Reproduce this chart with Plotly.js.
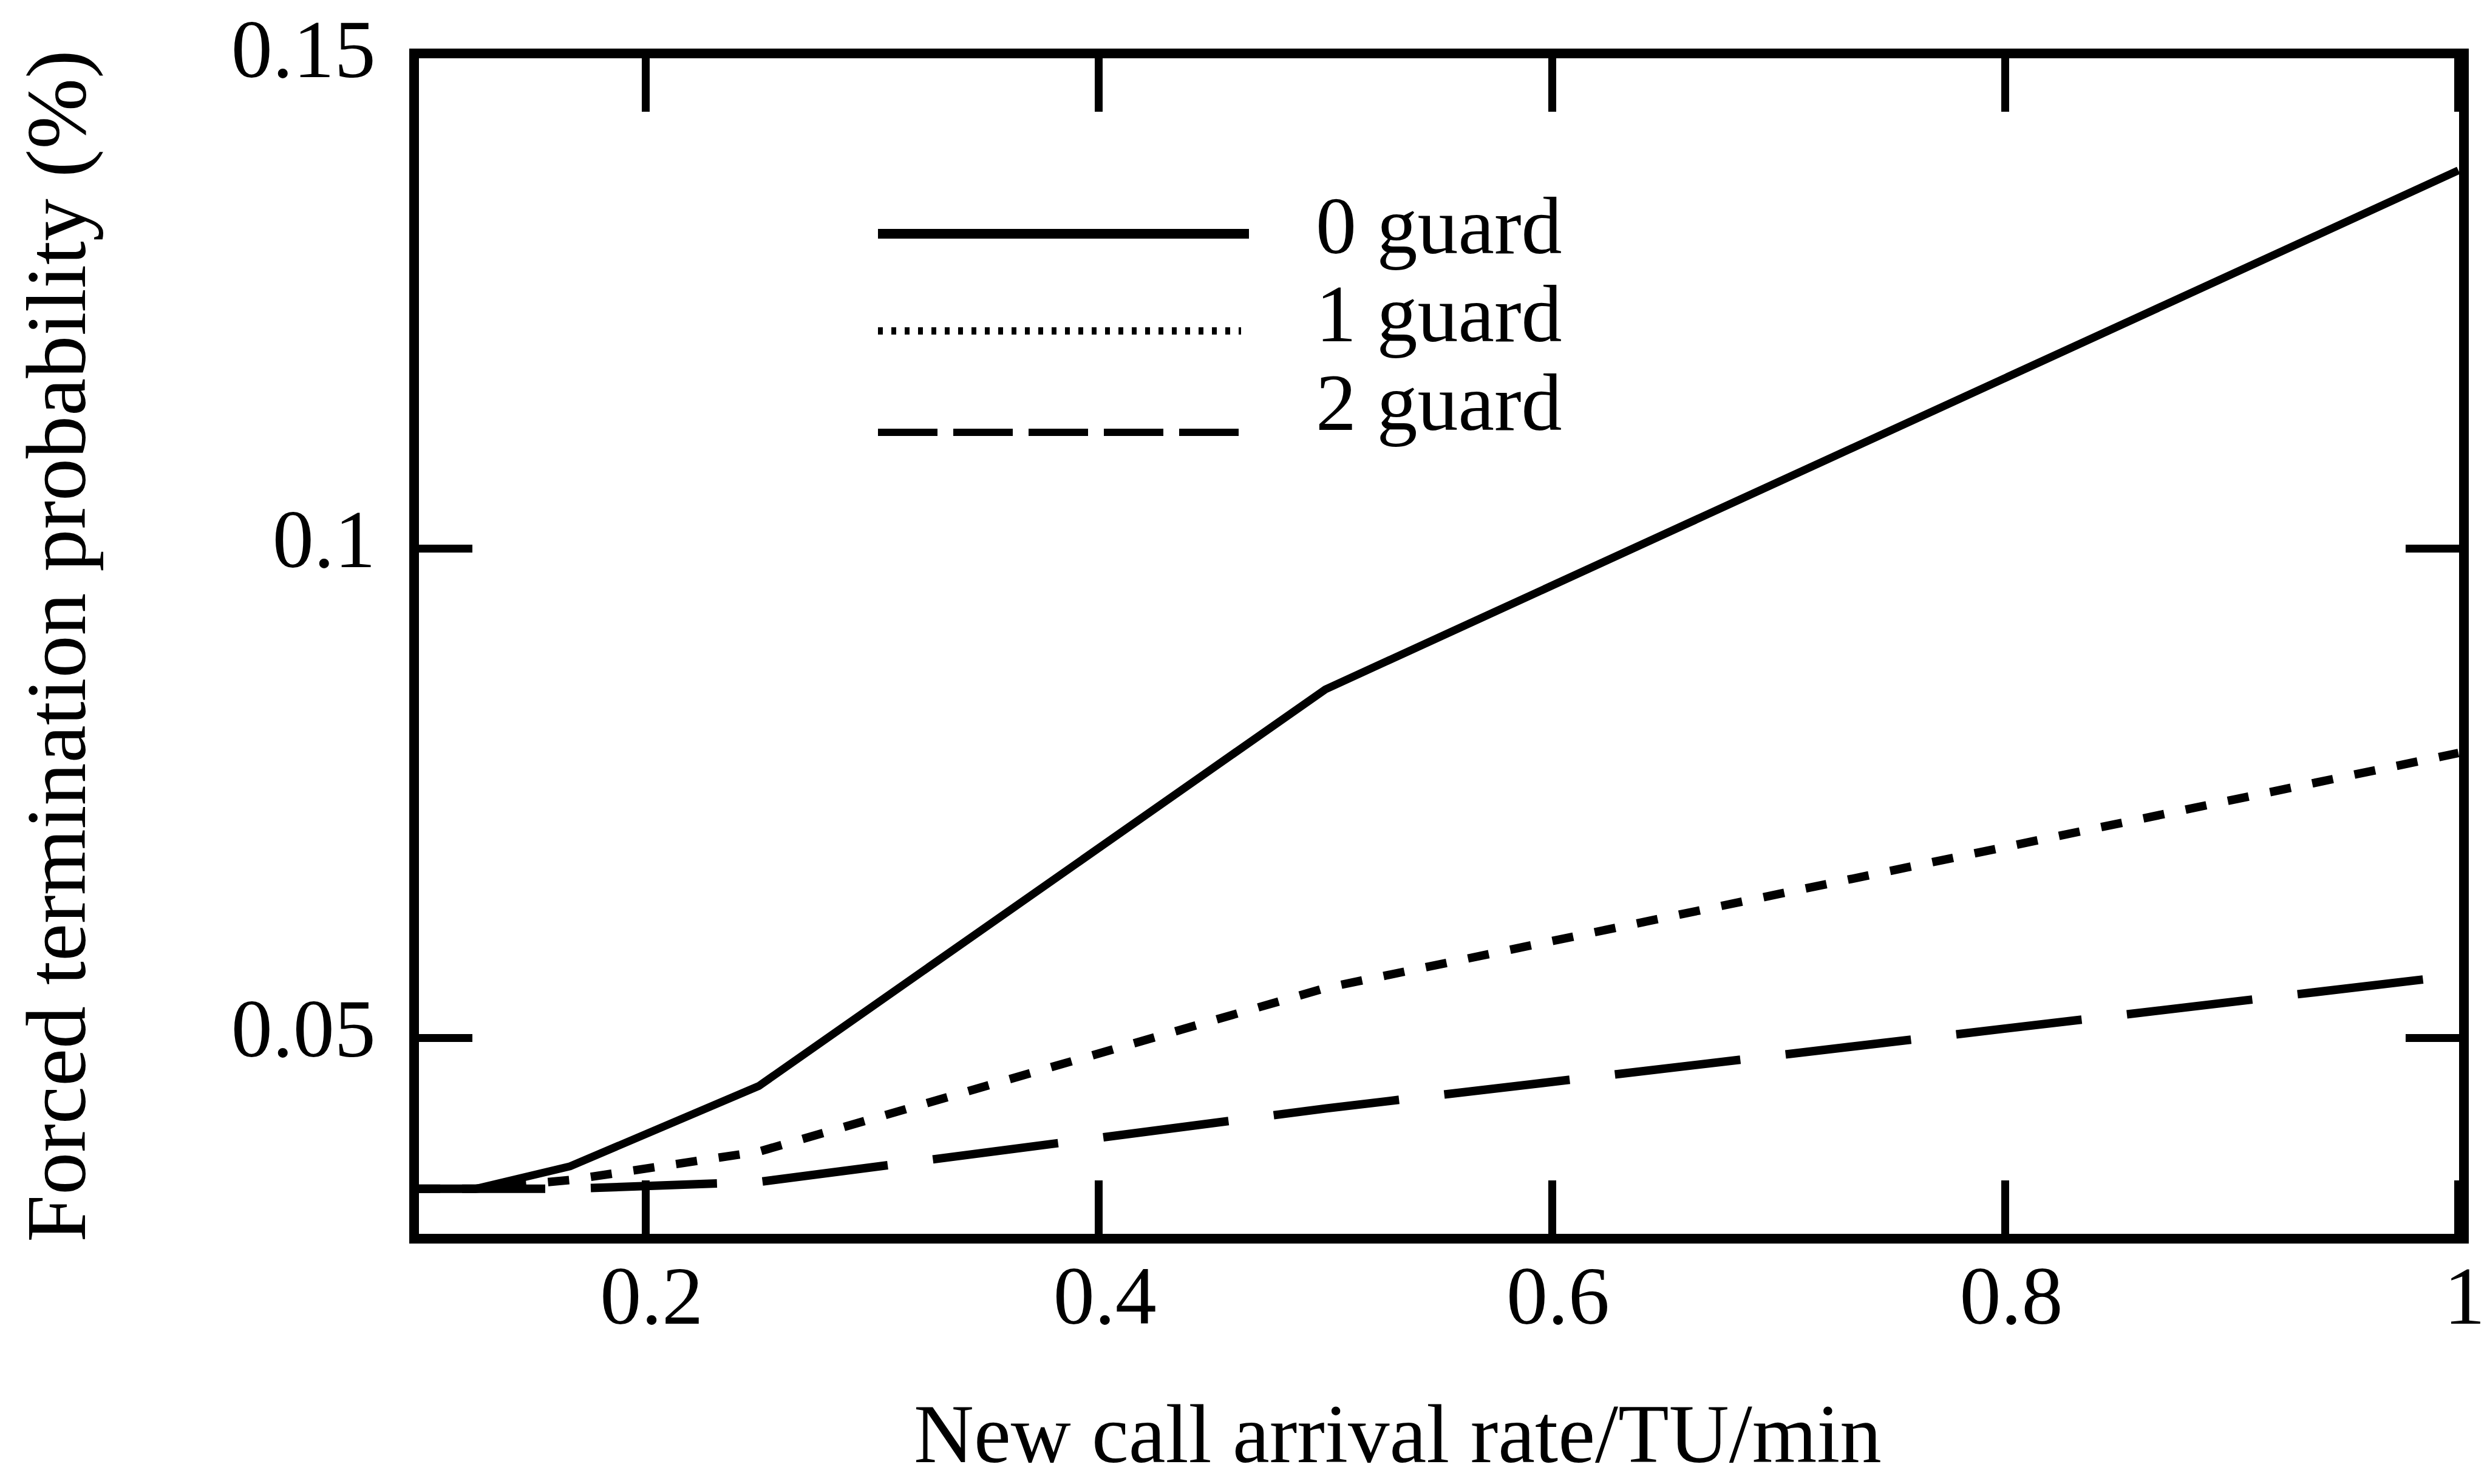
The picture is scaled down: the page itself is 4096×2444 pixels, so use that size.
<!DOCTYPE html>
<html>
<head>
<meta charset="utf-8">
<script src="https://cdn.plot.ly/plotly-3.0.1.min.js"></script>
<style>
  html, body { margin: 0; padding: 0; background: #ffffff; }
  #chart { width: 4096px; height: 2444px; }
</style>
</head>
<body>
<div id="chart"></div>
<script>
// ---- data ----
const arrivalRate = [0.1, 0.125, 0.1667, 0.25, 0.5, 1.0];
const guard0 = [0.0346, 0.0346, 0.0369, 0.0451, 0.0856, 0.1386];
const guard1 = [0.0346, 0.0346, 0.0355, 0.0384, 0.0551, 0.0791];
const guard2 = [0.0346, 0.0346, 0.0346, 0.0353, 0.0428, 0.0564];
const seriesNames = ["0 guard", "1 guard", "2 guard"];
const xTickVals = [0.2, 0.4, 0.6, 0.8, 1];
const xTickText = ["0.2", "0.4", "0.6", "0.8", "1"];
const yTickVals = [0.05, 0.1, 0.15];
const yTickText = ["0.05", "0.1", "0.15"];
const xTitle = "New call arrival rate/TU/min";
const yTitle = "Forced termination probability (%)";

// ---- layout geometry (pixels) ----
const W = 4096, H = 2444;
const L = 690, R = 4050, T = 96, B = 2032;
const px = v => (v - L) / (R - L);
const py = v => (B - v) / (B - T);

const FONT = "Liberation Serif, Times New Roman, serif";

const traces = [
  { x: arrivalRate, y: guard0, name: seriesNames[0], mode: "lines",
    line: { color: "#000", width: 13, dash: "solid" } },
  { x: arrivalRate, y: guard1, name: seriesNames[1], mode: "lines",
    line: { color: "#000", width: 14, dash: "35px,36px" } },
  { x: arrivalRate, y: guard2, name: seriesNames[2], mode: "lines",
    line: { color: "#000", width: 14, dash: "208px,75px" } }
];

// hand-drawn legend (long sample lines as in the reference)
const legendRows = [
  { y: 385, x0: 1446, x1: 2057, width: 16, dash: "solid", ty: 372 },
  { y: 545, x0: 1446, x1: 2044, width: 12, dash: "8px,14px", ty: 517 },
  { y: 712, x0: 1446, x1: 2044, width: 12, dash: "98px,26px", ty: 663 }
];
const shapes = legendRows.map(r => ({
  type: "line", xref: "paper", yref: "paper",
  x0: px(r.x0), x1: px(r.x1), y0: py(r.y), y1: py(r.y),
  line: { color: "#000", width: r.width, dash: r.dash }
}));
const annotations = legendRows.map((r, i) => ({
  xref: "paper", yref: "paper", x: px(2165), y: py(r.ty),
  xanchor: "left", yanchor: "middle", showarrow: false,
  text: seriesNames[i], font: { family: FONT, size: 134, color: "#000" }
}));
// x-axis title, placed where the reference has it (slightly left of centre)
annotations.push({
  xref: "paper", yref: "paper", x: px(2302), y: py(2362),
  xanchor: "center", yanchor: "middle", showarrow: false,
  text: xTitle, font: { family: FONT, size: 137, color: "#000" }
});

const axisCommon = {
  showgrid: false, zeroline: false, showline: true, linecolor: "#000",
  linewidth: 16, mirror: "ticks", ticks: "inside", ticklen: 88,
  tickwidth: 13, tickcolor: "#000", ticklabeloverflow: "allow",
  tickfont: { family: FONT, size: 136, color: "#000" }
};

const layout = {
  width: W, height: H,
  margin: { l: L, r: W - R, t: T, b: H - B, pad: 0 },
  paper_bgcolor: "#fff", plot_bgcolor: "#fff",
  showlegend: false,
  xaxis: Object.assign({}, axisCommon, {
    range: [0.1, 1.0003], tickmode: "array", tickvals: xTickVals, ticktext: xTickText,
    ticklabelstandoff: -31, ticklabelshift: 10
  }),
  yaxis: Object.assign({}, axisCommon, {
    range: [0.03, 0.15005], tickmode: "array", tickvals: yTickVals, ticktext: yTickText,
    ticklabelstandoff: 28, ticklabelshift: -17,
    title: { text: yTitle, font: { family: FONT, size: 140, color: "#000" }, standoff: 200 }
  }),
  shapes: shapes,
  annotations: annotations
};

Plotly.newPlot("chart", traces, layout, { displayModeBar: false, staticPlot: true });
</script>
</body>
</html>
